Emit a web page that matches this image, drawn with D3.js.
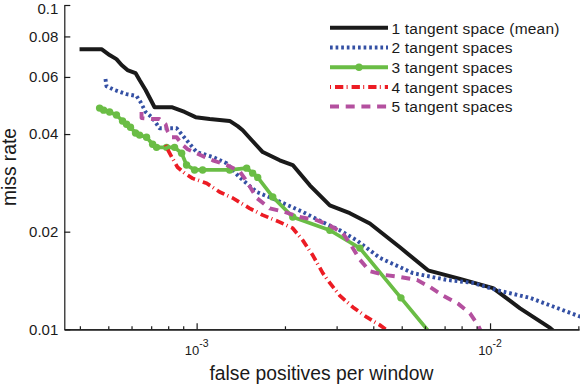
<!DOCTYPE html>
<html><head><meta charset="utf-8">
<script src="https://cdn.jsdelivr.net/npm/d3@7"></script>
<style>
body{margin:0;background:#fff}
svg{display:block}
text{font-family:"Liberation Sans",Arial,Helvetica,sans-serif;fill:#1a1a1a}
</style>
</head><body>
<svg id="c" width="580" height="384"></svg>
<script>
// ---- data ----
const seriesNames = ["1 tangent space (mean)","2 tangent spaces","3 tangent spaces","4 tangent spaces","5 tangent spaces"];
const seriesColors = ["#1a1a1a","#3450a4","#6abd45","#ec1c24","#b4509f"];

const fppw1 = [3.99e-4,4.74e-4,5.05e-4,5.33e-4,5.55e-4,5.81e-4,6.19e-4,6.39e-4,6.70e-4,7.19e-4,8.22e-4,9.10e-4,9.92e-4,1.108e-3,1.296e-3,1.380e-3,1.436e-3,1.553e-3,1.680e-3,1.920e-3,2.126e-3,2.431e-3,2.844e-3,3.328e-3,3.894e-3,4.930e-3,6.143e-3,7.902e-3,1.024e-2,1.266e-2,1.602e-2,1.680e-2];
const miss1 = [0.0731,0.0731,0.0701,0.0681,0.0653,0.0630,0.0617,0.0587,0.0547,0.0484,0.0484,0.0468,0.0451,0.0445,0.0439,0.0423,0.0411,0.0380,0.0352,0.0332,0.0321,0.0278,0.0241,0.0228,0.0212,0.0179,0.0152,0.0143,0.0134,0.0116,0.0101,0.00972];

const fppw2 = [4.89e-4,4.93e-4,5.25e-4,5.77e-4,6.24e-4,6.44e-4,6.70e-4,7.08e-4,7.47e-4,8.55e-4,9.24e-4,1.0e-3,1.134e-3,1.266e-3,1.402e-3,1.603e-3,1.875e-3,2.301e-3,2.692e-3,3.076e-3,3.516e-3,4.213e-3,5.461e-3,7.133e-3,8.750e-3,1.057e-2,1.369e-2,1.997e-2,2.194e-2];
const miss2 = [0.0591,0.0562,0.0547,0.0531,0.0524,0.0502,0.0468,0.0448,0.0417,0.0417,0.0383,0.0352,0.0340,0.0325,0.0294,0.0265,0.0250,0.0230,0.0214,0.0202,0.0188,0.0166,0.0149,0.0142,0.0139,0.0132,0.0125,0.0110,0.0107];

const fppw3 = [4.67e-4,4.82e-4,5.05e-4,5.33e-4,5.59e-4,5.77e-4,5.95e-4,6.19e-4,6.39e-4,6.75e-4,7.08e-4,7.30e-4,7.90e-4,8.41e-4,8.89e-4,9.24e-4,9.84e-4,1.048e-3,1.296e-3,1.481e-3,1.553e-3,1.615e-3,1.817e-3,2.126e-3,2.844e-3,3.600e-3,4.969e-3,6.39e-3];
const miss3 = [0.0481,0.0474,0.0468,0.0458,0.0439,0.0429,0.0420,0.0403,0.0397,0.0391,0.0372,0.0364,0.0364,0.0364,0.0349,0.0321,0.0310,0.0310,0.0310,0.0314,0.0303,0.0294,0.0256,0.0222,0.0202,0.0178,0.0125,0.0095];

const fppw4 = [7.84e-4,7.90e-4,8.22e-4,8.61e-4,9.10e-4,9.69e-4,1.082e-3,1.198e-3,1.327e-3,1.516e-3,1.680e-3,1.920e-3,2.126e-3,2.301e-3,2.489e-3,2.692e-3,2.844e-3,3.076e-3,3.408e-3,3.803e-3,4.213e-3,4.63e-3];
const miss4 = [0.0370,0.0364,0.0340,0.0316,0.0303,0.0292,0.0282,0.0265,0.0254,0.0236,0.0225,0.0214,0.0205,0.0188,0.0169,0.0149,0.0139,0.0127,0.0117,0.0109,0.0103,0.0097];

const fppw5 = [6.49e-4,6.49e-4,7.02e-4,7.47e-4,7.84e-4,7.96e-4,8.22e-4,8.55e-4,8.96e-4,9.32e-4,1.0e-3,1.065e-3,1.134e-3,1.266e-3,1.402e-3,1.458e-3,1.516e-3,1.603e-3,1.775e-3,1.996e-3,2.246e-3,2.568e-3,2.844e-3,3.149e-3,3.381e-3,3.600e-3,3.894e-3,4.381e-3,4.930e-3,5.635e-3,6.240e-3,6.913e-3,7.779e-3,8.545e-3,9.100e-3,9.391e-3];
const miss5 = [0.0468,0.0448,0.0445,0.0445,0.0429,0.0408,0.0391,0.0391,0.0370,0.0359,0.0349,0.0340,0.0332,0.0321,0.0307,0.0292,0.0276,0.0254,0.0236,0.0230,0.0222,0.0217,0.0209,0.0198,0.0180,0.0164,0.0151,0.0147,0.0145,0.0142,0.0135,0.0127,0.0120,0.0112,0.0103,0.0097];

const yTickValues = [0.01,0.02,0.04,0.06,0.08,0.1];
const yTickLabels = ["0.01","0.02","0.04","0.06","0.08","0.1"];
const xMajorTicks = [1e-3,1e-2];
const xMajorExponents = ["-3","-2"];
const xMinorTicks = [4e-4,5e-4,6e-4,7e-4,8e-4,9e-4,2e-3,3e-3,4e-3,5e-3,6e-3,7e-3,8e-3,9e-3,2e-2];

// ---- chart ----
const svg = d3.select("#c");
const x = d3.scaleLog().domain([3.54e-4, 0.0201]).range([64.3, 579]);
const y = d3.scaleLog().domain([0.01, 0.1]).range([329.3, 5]);

const series = [
  {xs:fppw1, ys:miss1, w:4, dash:null, marker:false},
  {xs:fppw2, ys:miss2, w:3.9, dash:"2.7,2.9", marker:false},
  {xs:fppw3, ys:miss3, w:3.7, dash:null, marker:true},
  {xs:fppw4, ys:miss4, w:3.7, dash:"1,4,8.3,3.3", marker:false},
  {xs:fppw5, ys:miss5, w:3.9, dash:"9,6.7", marker:false}
];

svg.append("defs").append("clipPath").attr("id","clip")
  .append("rect").attr("x",64.3).attr("y",0).attr("width",520).attr("height",329.3);

const plot = svg.append("g").attr("clip-path","url(#clip)");
const line = d3.line().x(d=>x(d[0])).y(d=>y(d[1]));

series.forEach((s,i)=>{
  const pts = s.xs.map((v,j)=>[v,s.ys[j]]);
  plot.append("path").datum(pts)
    .attr("d",line)
    .attr("fill","none")
    .attr("stroke",seriesColors[i])
    .attr("stroke-width",s.w)
    .attr("stroke-linejoin","round")
    .attr("stroke-dasharray",s.dash);
  if(s.marker){
    plot.selectAll(null).data(pts).enter().append("circle")
      .attr("cx",d=>x(d[0])).attr("cy",d=>y(d[1])).attr("r",3.7)
      .attr("fill",seriesColors[i]);
  }
});

// axes
const axStyle = g=>{
  g.selectAll("path.domain").attr("stroke","#1a1a1a").attr("stroke-width",1.2);
  g.selectAll(".tick line").attr("stroke","#1a1a1a").attr("stroke-width",1.2);
};
svg.append("g").attr("transform","translate(0,329.3)")
  .call(d3.axisBottom(x).tickValues(xMinorTicks).tickSizeInner(-3).tickSizeOuter(0).tickFormat(""))
  .call(axStyle);
svg.append("g").attr("transform","translate(0,329.3)")
  .call(d3.axisBottom(x).tickValues(xMajorTicks).tickSizeInner(-6).tickSizeOuter(0).tickFormat(""))
  .call(axStyle);

xMajorTicks.forEach((v,i)=>{
  const t = svg.append("text").attr("x",x(v)).attr("y",354.5).attr("text-anchor","middle").attr("font-size",13);
  t.append("tspan").text("10");
  t.append("tspan").attr("font-size",10.5).attr("dy",-7.5).text(xMajorExponents[i]);
});

svg.append("g").attr("transform","translate(64.3,0)")
  .call(d3.axisLeft(y).tickValues(yTickValues).tickSizeInner(-6).tickSizeOuter(0).tickPadding(6)
    .tickFormat((d,i)=>yTickLabels[i]))
  .call(axStyle)
  .call(g=>g.selectAll(".tick text").attr("font-size",15).attr("fill","#1a1a1a")
    .attr("font-family",'"Liberation Sans",Arial,Helvetica,sans-serif')
    .attr("dy",(d)=> d===0.1 ? "0.55em" : "0.32em"));

// axis labels
svg.append("text").attr("x",321.5).attr("y",379.5).attr("text-anchor","middle")
  .attr("font-size",19.3).text("false positives per window");
svg.append("text").attr("transform","translate(16,167) rotate(-90)").attr("text-anchor","middle")
  .attr("font-size",19.3).text("miss rate");

// legend
const leg = svg.append("g");
series.forEach((s,i)=>{
  const ly = 27.8 + i*19.7;
  leg.append("line").attr("x1",330).attr("x2",388).attr("y1",ly).attr("y2",ly)
    .attr("stroke",seriesColors[i]).attr("stroke-width",4)
    .attr("stroke-dasharray",s.dash);
  if(s.marker){
    leg.append("circle").attr("cx",359).attr("cy",ly).attr("r",3.7).attr("fill",seriesColors[i]);
  }
  leg.append("text").attr("x",391.5).attr("y",ly).attr("dy","0.37em").attr("font-size",15.5)
    .attr("letter-spacing",0.2).text(seriesNames[i]);
});
</script>
</body></html>
